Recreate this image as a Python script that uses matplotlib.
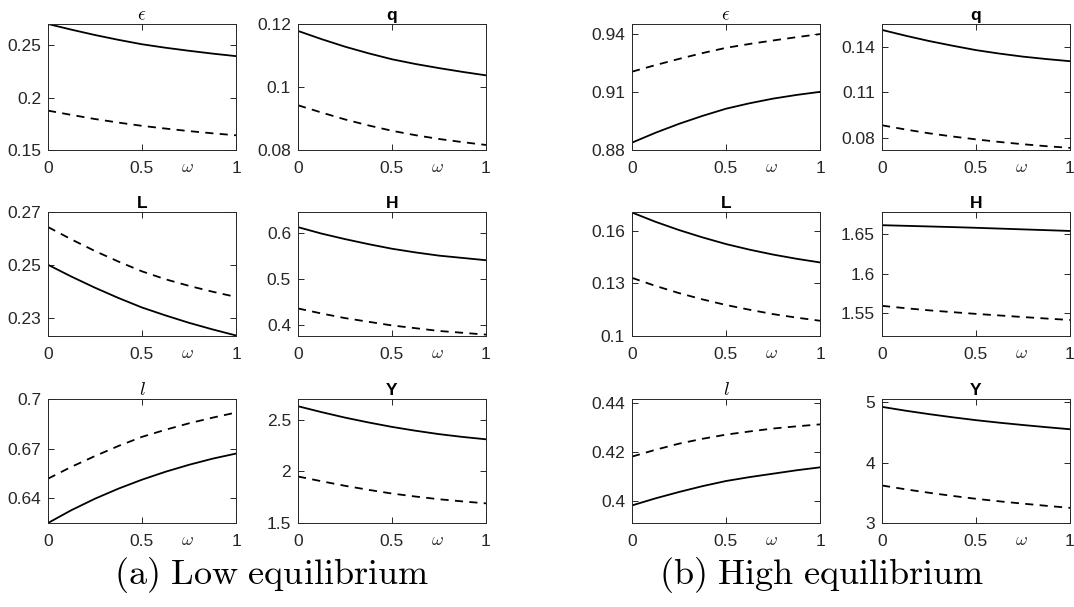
import matplotlib
matplotlib.use("Agg")
import matplotlib.pyplot as plt

plt.rcParams['font.family'] = ['Liberation Sans', 'DejaVu Sans']
plt.rcParams['mathtext.fontset'] = 'cm'

omega = [0, 0.125, 0.25, 0.375, 0.5, 0.625, 0.75, 0.875, 1]

# low equilibrium (solid / dashed)
low_eps_s = [0.270, 0.2646, 0.2595, 0.2549, 0.2507, 0.2474, 0.2445, 0.2418, 0.2394]
low_eps_d = [0.1875, 0.1834, 0.1795, 0.1761, 0.1730, 0.1704, 0.1680, 0.1659, 0.1640]
low_q_s = [0.1178, 0.1152, 0.1128, 0.1107, 0.1088, 0.1073, 0.1060, 0.1048, 0.1037]
low_q_d = [0.0942, 0.0919, 0.0897, 0.0878, 0.0861, 0.0847, 0.0835, 0.0825, 0.0816]
low_L_s = [0.2500, 0.2455, 0.2413, 0.2374, 0.2338, 0.2308, 0.2280, 0.2255, 0.2232]
low_L_d = [0.2643, 0.2596, 0.2552, 0.2512, 0.2475, 0.2445, 0.2420, 0.2398, 0.2378]
low_H_s = [0.612, 0.598, 0.586, 0.575, 0.565, 0.557, 0.550, 0.545, 0.540]
low_H_d = [0.435, 0.424, 0.414, 0.406, 0.398, 0.392, 0.386, 0.382, 0.378]
low_l_s = [0.625, 0.6328, 0.6397, 0.6458, 0.6512, 0.6560, 0.6602, 0.6639, 0.6670]
low_l_d = [0.6518, 0.6590, 0.6655, 0.6716, 0.6771, 0.6814, 0.6853, 0.6887, 0.6918]
low_Y_s = [2.63, 2.573, 2.52, 2.473, 2.43, 2.393, 2.36, 2.333, 2.31]
low_Y_d = [1.95, 1.904, 1.86, 1.821, 1.785, 1.756, 1.73, 1.709, 1.69]

# high equilibrium
high_eps_s = [0.8838, 0.8889, 0.8935, 0.8976, 0.9013, 0.9041, 0.9065, 0.9084, 0.9100]
high_eps_d = [0.9204, 0.9238, 0.9270, 0.9300, 0.9327, 0.9347, 0.9365, 0.9382, 0.9398]
high_q_s = [0.1511, 0.1473, 0.1438, 0.1407, 0.1378, 0.1355, 0.1335, 0.1319, 0.1305]
high_q_d = [0.0883, 0.0855, 0.0830, 0.0809, 0.0790, 0.0773, 0.0758, 0.0745, 0.0734]
high_L_s = [0.1705, 0.1652, 0.1605, 0.1563, 0.1525, 0.1493, 0.1465, 0.1441, 0.1420]
high_L_d = [0.1332, 0.1286, 0.1245, 0.1209, 0.1177, 0.1150, 0.1125, 0.1105, 0.1087]
high_H_s = [1.6613, 1.6605, 1.6597, 1.6589, 1.658, 1.657, 1.656, 1.655, 1.654]
high_H_d = [1.5592, 1.5562, 1.5535, 1.5512, 1.549, 1.547, 1.545, 1.5431, 1.5413]
high_l_s = [0.398, 0.4009, 0.4035, 0.4059, 0.408, 0.4096, 0.411, 0.4124, 0.4136]
high_l_d = [0.418, 0.4208, 0.4233, 0.4253, 0.427, 0.4283, 0.4295, 0.4304, 0.4312]
high_Y_s = [4.92, 4.857, 4.80, 4.748, 4.70, 4.658, 4.62, 4.584, 4.55]
high_Y_d = [3.62, 3.557, 3.50, 3.448, 3.40, 3.358, 3.32, 3.284, 3.25]

titles = [r'$\epsilon$', 'q', 'L', 'H', r'$l$', 'Y']
bold = [False, True, True, True, False, True]

low_panels = [
    (low_eps_s, low_eps_d, (0.15, 0.27), [0.15, 0.2, 0.25], ['0.15', '0.2', '0.25']),
    (low_q_s, low_q_d, (0.08, 0.12), [0.08, 0.1, 0.12], ['0.08', '0.1', '0.12']),
    (low_L_s, low_L_d, (0.223, 0.27), [0.23, 0.25, 0.27], ['0.23', '0.25', '0.27']),
    (low_H_s, low_H_d, (0.375, 0.645), [0.4, 0.5, 0.6], ['0.4', '0.5', '0.6']),
    (low_l_s, low_l_d, (0.625, 0.70), [0.64, 0.67, 0.7], ['0.64', '0.67', '0.7']),
    (low_Y_s, low_Y_d, (1.5, 2.7), [1.5, 2, 2.5], ['1.5', '2', '2.5']),
]
high_panels = [
    (high_eps_s, high_eps_d, (0.88, 0.945), [0.88, 0.91, 0.94], ['0.88', '0.91', '0.94']),
    (high_q_s, high_q_d, (0.072, 0.155), [0.08, 0.11, 0.14], ['0.08', '0.11', '0.14']),
    (high_L_s, high_L_d, (0.10, 0.1708), [0.1, 0.13, 0.16], ['0.1', '0.13', '0.16']),
    (high_H_s, high_H_d, (1.521, 1.678), [1.55, 1.6, 1.65], ['1.55', '1.6', '1.65']),
    (high_l_s, high_l_d, (0.3908, 0.4416), [0.4, 0.42, 0.44], ['0.4', '0.42', '0.44']),
    (high_Y_s, high_Y_d, (3.0, 5.05), [3, 4, 5], ['3', '4', '5']),
]

W, H = 1074, 607
fig = plt.figure(figsize=(W / 100, H / 100), dpi=100)

col_x = [[48, 298], [632, 882]]
row_y = [(24, 150), (212, 336), (399, 523)]
axw = 188
grey = '#262626'

for g, panels in enumerate([low_panels, high_panels]):
    for i, (ys, yd, ylim, yt, ytl) in enumerate(panels):
        r, c = divmod(i, 2)
        x0 = col_x[g][c]
        top, bot = row_y[r]
        ax = fig.add_axes([x0 / W, 1 - bot / H, axw / W, (bot - top) / H])
        ax.plot(omega, ys, color='k', lw=1.3)
        ax.plot(omega, yd, color='k', lw=1.3, ls=(0, (4.5, 3.5)))
        ax.set_xlim(0, 1)
        ax.set_ylim(*ylim)
        ax.set_xticks([0, 0.5, 1])
        ax.set_xticklabels(['0', '0.5', '1'])
        ax.set_yticks(yt)
        ax.set_yticklabels(ytl)
        ax.tick_params(direction='in', top=True, right=True, length=4,
                       labelsize=12.5, colors=grey, labelcolor=grey, width=0.7)
        ax.tick_params(axis='x', pad=8)
        ax.tick_params(axis='y', pad=5)
        for s in ax.spines.values():
            s.set_color(grey)
            s.set_linewidth(0.7)
        ax.set_title(titles[i], fontsize=12.5 if bold[i] else 13.5,
                     fontweight='bold' if bold[i] else 'normal', pad=3, color='k')
        ax.text(0.74, -0.075, r'$\omega$', transform=ax.transAxes, ha='center',
                va='top', fontsize=13, color=grey)

fig.text(271 / W, 1 - 575 / H, r'$\mathrm{(a)\ Low\ equilibrium}$',
         ha='center', va='center', fontsize=26)
fig.text(822 / W, 1 - 575 / H, r'$\mathrm{(b)\ High\ equilibrium}$',
         ha='center', va='center', fontsize=26)

fig.savefig('out.png', dpi=100)
